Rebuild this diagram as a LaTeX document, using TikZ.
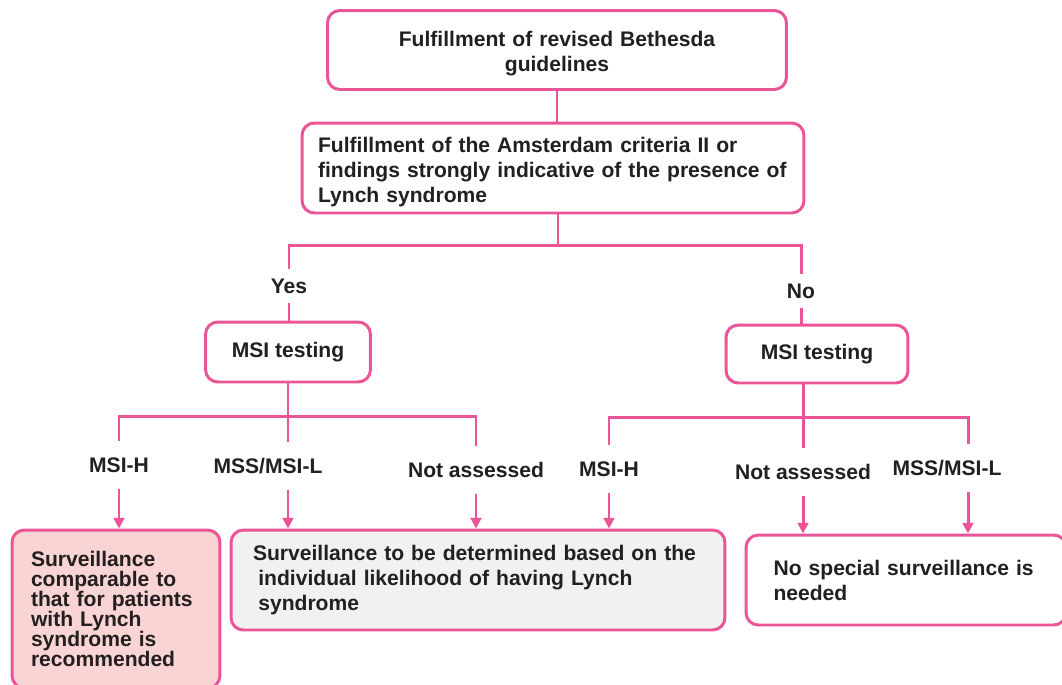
\documentclass[tikz,border=0pt]{standalone}
\usepackage{fontspec}
\setmainfont{Liberation Sans}
\usetikzlibrary{arrows.meta}

\definecolor{lspink}{RGB}{236,84,152}
\definecolor{lsrose}{RGB}{249,212,212}
\definecolor{lsgray}{RGB}{240,241,240}
\definecolor{lstext}{RGB}{35,31,32}

\tikzset{
    box/.style={draw=lspink, line width=1.7pt, rounded corners=7pt, text=lstext,
        font=\bfseries\fontsize{12}{14.2}\selectfont, inner sep=0pt},
    lower/.style={execute at end node={\par\kern-4.5pt}},
    answer/.style={text=lstext, font=\bfseries\fontsize{12}{14.2}\selectfont,
        inner sep=0pt, minimum height=0.68cm},
    outcome/.style={text=lstext, font=\bfseries\fontsize{12}{14.2}\selectfont,
        inner sep=0pt, minimum height=0.94cm},
    link/.style={draw=lspink, line width=1.7pt},
    arrow/.style={link, -{Triangle[length=6pt, width=6pt]}},
}

\begin{document}
\begin{tikzpicture}[x=0.02cm, y=-0.02cm]
    \clip (0, 0) rectangle (1062, 684);
    % boxes
    \node[box, lower, minimum width=9.18cm, minimum height=1.58cm, text width=8.5cm, align=center] (bethesda) at (557, 50)
        {Fulfillment of revised Bethesda\\guidelines};
    \node[box, lower, minimum width=10.04cm, minimum height=1.8cm, text width=9.4cm, align=left] (amsterdam) at (553, 168)
        {Fulfillment of the Amsterdam criteria II or\\findings strongly indicative of the presence of\\Lynch syndrome};
    \node[box, minimum width=3.3cm, minimum height=1.2cm] (msiyes) at (288, 352) {MSI testing};
    \node[box, minimum width=3.64cm, minimum height=1.16cm] (msino) at (817, 354) {MSI testing};
    \node[box, fill=lsrose, minimum width=4.16cm, minimum height=3.16cm, text width=3.4cm, align=left,
        font=\bfseries\fontsize{12}{11.4}\selectfont] (lynchsurv) at (116, 609)
        {Surveillance\\comparable to\\that for patients\\with Lynch\\syndrome is\\recommended};
    \node[box, fill=lsgray, minimum width=9.88cm, minimum height=2cm, text width=9.0cm, align=left] (indivsurv) at (478, 580)
        {Surveillance to be determined based on the\\\hspace*{3pt}individual likelihood of having Lynch\\\hspace*{3pt}syndrome};
    \node[box, minimum width=6.4cm, minimum height=1.8cm, text width=5.3cm, align=left] (nosurv) at (906, 580)
        {No special surveillance is\\needed};
    % answers
    \node[answer] (yes) at (289, 286) {Yes};
    \node[answer] (no) at (801, 291) {No};
    % results (yes)
    \node[outcome] (msihyes) at (119, 465) {MSI-H};
    \node[outcome] (mssyes) at (268, 466) {MSS/MSI-L};
    \node[outcome] (nayes) at (476, 470) {Not assessed};
    % results (no)
    \node[outcome] (msihno) at (609, 469) {MSI-H};
    \node[outcome] (nano) at (803, 472) {Not assessed};
    \node[outcome] (mssno) at (947, 468) {MSS/MSI-L};
    % top
    \coordinate (fork) at (558, 245);
    \draw[link] (bethesda.south) -- (bethesda.south |- amsterdam.north);
    \draw[link] (amsterdam.south -| fork) -- (fork);
    \draw[link] (yes.north) |- (fork) -| (no.north);
    \draw[link] (yes.south) -- (yes.south |- msiyes.north);
    \draw[link] (no.south) -- (no.south |- msino.north);
    % MSI testing (yes)
    \coordinate (forkyes) at (288, 416);
    \draw[link] (msiyes.south) -- (msiyes.south |- mssyes.north);
    \draw[link] (msihyes.north) |- (forkyes) -| (nayes.north);
    \draw[arrow] (msihyes.south) -- (msihyes.south |- lynchsurv.north);
    \draw[arrow] (msiyes.south |- mssyes.south) -- (msiyes.south |- indivsurv.north);
    \draw[arrow] (nayes.south) -- (nayes.south |- indivsurv.north);
    % MSI testing (no)
    \coordinate (forkno) at (803, 417);
    \coordinate (forkend) at (968, 417);
    \draw[link] (forkno |- msino.south) -- (forkno |- nano.north);
    \draw[link] (msihno.north) |- (forkno) -- (forkend) -- (forkend |- mssno.north);
    \draw[arrow] (msihno.south) -- (msihno.south |- indivsurv.north);
    \draw[arrow] (nano.south) -- (nano.south |- nosurv.north);
    \draw[arrow] (forkend |- mssno.south) -- (forkend |- nosurv.north);
\end{tikzpicture}
\end{document}
